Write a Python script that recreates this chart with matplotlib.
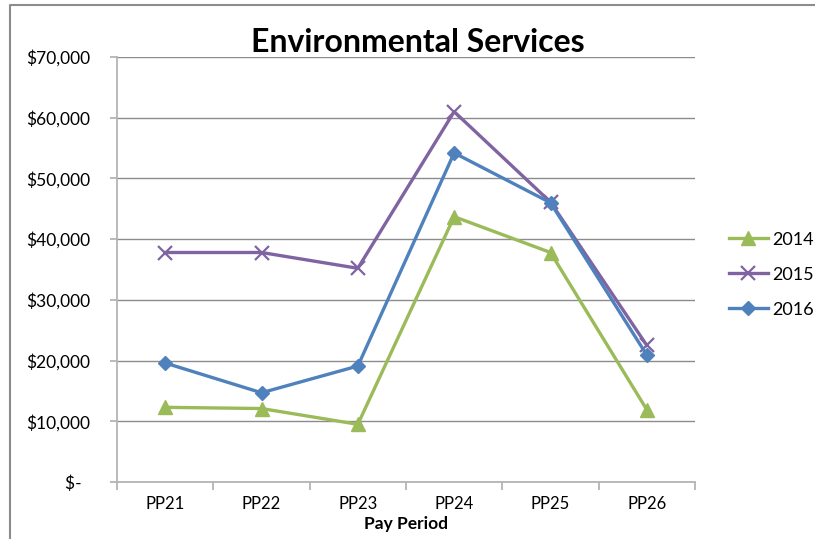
import matplotlib.pyplot as plt
from matplotlib.lines import Line2D

plt.rcParams['font.family'] = ['Lato', 'DejaVu Sans']

periods = ["PP21", "PP22", "PP23", "PP24", "PP25", "PP26"]
spend_2014 = [12300, 12100, 9500, 43700, 37800, 11900]
spend_2015 = [37800, 37800, 35200, 61000, 46100, 22500]
spend_2016 = [19600, 14700, 19100, 54200, 46000, 20900]

y_ticks = [0, 10000, 20000, 30000, 40000, 50000, 60000, 70000]

GREEN = "#9bbb59"
PURPLE = "#8064a2"
BLUE = "#4f81bd"


def money(v):
    if v == 0:
        return "$-  "
    return "${:,.0f}".format(v)


fig = plt.figure(figsize=(8.15, 5.39), dpi=100)
# chart frame (top and left edges)
frame_x = [9.5 / 815, 9.5 / 815, 1.0]
frame_y = [0.0, 1 - 5 / 539, 1 - 5 / 539]
fig.lines.append(Line2D(frame_x, frame_y, transform=fig.transFigure,
                        color="#8c8c8c", linewidth=1.5))

ax = fig.add_axes([117 / 815, 1 - 482 / 539, 578 / 815, 425 / 539])
x = list(range(len(periods)))

ax.plot(x, spend_2014, color=GREEN, lw=2.4, marker="^", ms=10, label="2014")
ax.plot(x, spend_2015, color=PURPLE, lw=2.4, marker="x", ms=10, mew=1.6, label="2015")
ax.plot(x, spend_2016, color=BLUE, lw=2.4, marker="D", ms=7, label="2016")

ax.set_xlim(-0.5, len(periods) - 0.5)
ax.set_ylim(0, 70000)
ax.set_yticks(y_ticks)
ax.set_yticklabels([money(v) for v in y_ticks])
ax.set_xticks(x)
ax.set_xticklabels(periods)
ax.set_xticks([i - 0.5 for i in range(len(periods) + 1)], minor=True)

ax.grid(axis="y", color="#8c8c8c", lw=1.0)
ax.set_axisbelow(True)
for side in ["top", "right"]:
    ax.spines[side].set_visible(False)
for side in ["left", "bottom"]:
    ax.spines[side].set_color("#b4b4b4")
    ax.spines[side].set_linewidth(1.3)

ax.tick_params(axis="x", which="major", length=0, pad=10, labelsize=12)
ax.tick_params(axis="x", which="minor", length=6, color="#b4b4b4", width=1.3)
ax.tick_params(axis="y", length=5, color="#b4b4b4", width=1.3, pad=14, labelsize=12.5)

ax.set_xlabel("Pay Period", fontsize=12.5, fontweight="bold", labelpad=3)
fig.text(0.513, 1 - 42 / 539, "Environmental Services", ha="center", va="center",
         fontsize=23, fontweight="bold")

ax.legend(loc="center left", bbox_to_anchor=(1.03, 0.488), frameon=False, fontsize=13,
          handlelength=2.2, handletextpad=0.2, labelspacing=1.05)

fig.savefig("out.png", dpi=100)
